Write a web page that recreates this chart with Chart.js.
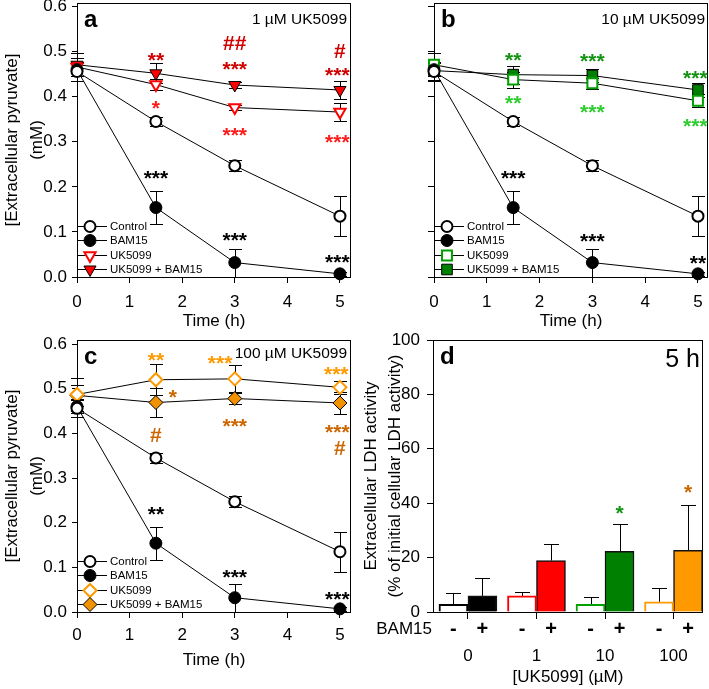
<!DOCTYPE html>
<html>
<head>
<meta charset="utf-8">
<title>Extracellular pyruvate and LDH</title>
<script src="https://cdn.jsdelivr.net/npm/chart.js@4.4.1/dist/chart.umd.min.js"></script>
<style>
  html, body { margin: 0; padding: 0; background: #fff; }
  #page { position: relative; width: 709px; height: 689px; overflow: hidden; }
  canvas { position: absolute; }
</style>
</head>
<body>
<div id="page">
  <canvas id="panelA" width="355" height="340" style="left:0;top:0"></canvas>
  <canvas id="panelB" width="354" height="340" style="left:355px;top:0"></canvas>
  <canvas id="panelC" width="355" height="359" style="left:0;top:330px"></canvas>
  <canvas id="panelD" width="354" height="359" style="left:355px;top:330px"></canvas>
</div>
<script>
/* data */
var hours = [0, 1.5, 3, 5];
var hourTicks = [0, 1, 2, 3, 4, 5];
var pyruvateTicks = [0, 0.1, 0.2, 0.3, 0.4, 0.5, 0.6];
var seriesNames = ['Control', 'BAM15', 'UK5099', 'UK5099 + BAM15'];

var controlPyr = [0.456, 0.345, 0.247, 0.135];
var controlPyrErr = [0.02, 0.011, 0.012, 0.045];
var bam15Pyr = [0.46, 0.154, 0.032, 0.007];
var bam15PyrErr = [0.015, 0.037, 0.031, 0.004];

var uk1Pyr = [0.466, 0.427, 0.376, 0.366];
var uk1PyrErr = [0.02, 0.012, 0.005, 0.019];
var uk1BamPyr = [0.471, 0.452, 0.426, 0.415];
var uk1BamPyrErr = [0.025, 0.022, 0.006, 0.021];

var uk10Pyr = [0.471, 0.438, 0.43, 0.391];
var uk10PyrErr = [0.025, 0.018, 0.012, 0.014];
var uk10BamPyr = [0.458, 0.449, 0.447, 0.415];
var uk10BamPyrErr = [0.02, 0.02, 0.015, 0.015];

var uk100Pyr = [0.487, 0.52, 0.522, 0.503];
var uk100PyrErr = [0.037, 0.035, 0.03, 0.014];
var uk100BamPyr = [0.485, 0.469, 0.478, 0.468];
var uk100BamPyrErr = [0.023, 0.033, 0.012, 0.024];

// significance marks: [time (h), level (mM), symbols, compared group]
var marksA = [
  [1.5, 0.493, '**', 'combo'], [1.5, 0.387, '*', 'uk'],
  [3, 0.521, '##', 'combo'], [3, 0.473, '***', 'combo'], [3, 0.326, '***', 'uk'],
  [5, 0.503, '#', 'combo'], [4.95, 0.46, '***', 'combo'], [4.95, 0.311, '***', 'uk'],
  [1.5, 0.231, '***', 'bam'], [3, 0.094, '***', 'bam'], [4.95, 0.044, '***', 'bam']
];
var marksB = [
  [1.5, 0.493, '**', 'combo'], [1.5, 0.397, '**', 'uk'],
  [3, 0.491, '***', 'combo'], [3, 0.377, '***', 'uk'],
  [4.95, 0.454, '***', 'combo'], [4.95, 0.347, '***', 'uk'],
  [1.5, 0.231, '***', 'bam'], [3, 0.092, '***', 'bam'], [5, 0.043, '**', 'bam']
];
var marksC = [
  [1.5, 0.576, '**', 'uk'], [2.72, 0.569, '***', 'uk'], [4.93, 0.544, '***', 'uk'],
  [1.82, 0.492, '*', 'combo'], [1.5, 0.398, '#', 'combo'], [3, 0.428, '***', 'combo'],
  [4.95, 0.415, '***', 'combo'], [5, 0.369, '#', 'combo'],
  [1.5, 0.23, '**', 'bam'], [3, 0.09, '***', 'bam'], [4.95, 0.04, '***', 'bam']
];

var ukDoses = ['0', '1', '10', '100'];
var bamSigns = ['-', '+'];
var ldhTicks = [0, 20, 40, 60, 80, 100];
var ldhNoBam = [2.8, 5.9, 2.8, 3.7];
var ldhNoBamErr = [4.3, 1.4, 2.8, 5.2];
var ldhBam = [5.9, 18.9, 22.3, 22.7];
var ldhBamErr = [6.7, 6.1, 10.1, 16.7];
// [dose index, level (%), symbols] above the BAM15 bar
var marksD = [[2, 38.2, '*'], [3, 46.2, '*']];

var FONT = "'Liberation Sans', Arial, Helvetica, sans-serif";
Chart.defaults.font.family = FONT;
Chart.defaults.color = '#000';

function drawMark(ctx, text, x, y, color) {
  ctx.fillStyle = color;
  ctx.font = 'bold 21px ' + FONT;
  ctx.textAlign = 'center';
  ctx.textBaseline = 'alphabetic';
  var k = text.charAt(0) === '#' ? 0.36 : 0.58;
  ctx.fillText(text, x, y + k * 21);
}

// keep the plot frame where the figure has it, labels may stick out
function noEdgePadding(s) {
  s.paddingTop = 0; s.paddingBottom = 0;
  s.paddingLeft = 0; s.paddingRight = 0;
}

/* error bars go under the markers */
var errorBars = {
  id: 'errorBars',
  beforeDatasetsDraw: function(chart) {
    var ctx = chart.ctx;
    var yScale = chart.scales.y;
    var isBar = chart.config.type === 'bar';
    ctx.save();
    ctx.strokeStyle = '#000';
    ctx.lineWidth = 1;
    chart.data.datasets.forEach(function(ds, i) {
      if (!ds.errors) return;
      var meta = chart.getDatasetMeta(i);
      meta.data.forEach(function(el, j) {
        var v = ds.data[j].y;
        var e = ds.errors[j];
        var x = Math.round(el.x) + 0.5;
        var top = Math.round(yScale.getPixelForValue(v + e)) + 0.5;
        var bot = isBar ? el.y : Math.round(yScale.getPixelForValue(v - e)) + 0.5;
        var cap = isBar ? 7.5 : 6.5;
        ctx.beginPath();
        ctx.moveTo(x, top); ctx.lineTo(x, bot);
        ctx.moveTo(x - cap, top); ctx.lineTo(x + cap, top);
        if (!isBar) { ctx.moveTo(x - cap, bot); ctx.lineTo(x + cap, bot); }
        ctx.stroke();
      });
    });
    ctx.restore();
  }
};

/* frame, panel letter, heading, significance marks, legend */
var panelExtras = {
  id: 'panelExtras',
  beforeDatasetsDraw: function(chart) {
    var a = chart.chartArea, ctx = chart.ctx;
    ctx.save();
    ctx.strokeStyle = '#000';
    ctx.lineWidth = 1;
    ctx.strokeRect(a.left + 0.5, a.top + 0.5, a.right - a.left - 1, a.bottom - a.top);
    ctx.restore();
  },
  afterDatasetsDraw: function(chart, args, o) {
    var a = chart.chartArea, ctx = chart.ctx;
    var xs = chart.scales.x, ys = chart.scales.y;
    ctx.save();

    ctx.fillStyle = '#000';
    ctx.font = 'bold 24px ' + FONT;
    ctx.textAlign = 'left';
    ctx.textBaseline = 'alphabetic';
    ctx.fillText(o.letter, a.left + 7, a.top + 24);

    ctx.font = o.headingFont + ' ' + FONT;
    ctx.textAlign = 'right';
    ctx.fillText(o.heading, a.right - o.headingRight, a.top + o.headingTop);

    (o.marks || []).forEach(function(m) {
      var x, color;
      if (o.barMarks) {
        x = chart.getDatasetMeta(1).data[m[0]].x;
        color = o.colors[m[0]];
      } else {
        x = xs.getPixelForValue(m[0]);
        color = o.colors[m[3]];
      }
      drawMark(ctx, m[2], x, ys.getPixelForValue(m[1]), color);
    });

    if (o.legend) {
      chart.data.datasets.forEach(function(ds, i) {
        var y = Math.round(a.bottom - 51.5 + i * 14.6) + 0.5;
        ctx.strokeStyle = '#000';
        ctx.lineWidth = 1;
        ctx.beginPath();
        ctx.moveTo(a.left, y); ctx.lineTo(a.left + 30, y);
        ctx.stroke();
        ctx.fillStyle = ds.pointBackgroundColor;
        ctx.strokeStyle = ds.pointBorderColor;
        ctx.lineWidth = ds.pointBorderWidth;
        Chart.helpers.drawPoint(ctx, {
          pointStyle: ds.pointStyle, rotation: ds.pointRotation || 0,
          radius: ds.pointRadius, borderWidth: ds.pointBorderWidth
        }, a.left + 13, y);
        ctx.fillStyle = '#000';
        ctx.font = '11.5px ' + FONT;
        ctx.textAlign = 'left';
        ctx.textBaseline = 'middle';
        ctx.fillText(ds.label, a.left + 33, y);
      });
    }

    if (o.bamRow) {
      var rowY = a.bottom + 17;
      ctx.fillStyle = '#000';
      ctx.textBaseline = 'middle';
      ctx.textAlign = 'right';
      ctx.font = '17px ' + FONT;
      ctx.fillText('BAM15', a.left - 1, rowY);
      ctx.textAlign = 'center';
      ctx.font = 'bold 20px ' + FONT;
      chart.data.datasets.forEach(function(ds, i) {
        chart.getDatasetMeta(i).data.forEach(function(el) {
          ctx.fillText(bamSigns[i], el.x, rowY);
        });
      });
    }
    ctx.restore();
  }
};

function points(ys) {
  return hours.map(function(h, i) { return {x: h, y: ys[i]}; });
}

function lineSet(label, ys, errs, look) {
  var ds = {
    label: label, data: points(ys), errors: errs,
    borderColor: '#000', borderWidth: 1, tension: 0, clip: false,
    pointHoverRadius: look.pointRadius, pointHitRadius: 0
  };
  Object.keys(look).forEach(function(k) { ds[k] = look[k]; });
  return ds;
}

function pyruvateChart(p) {
  var datasets = [
    lineSet(seriesNames[0], controlPyr, controlPyrErr,
      {pointStyle: 'circle', pointRadius: 5.5, pointBackgroundColor: '#fff', pointBorderColor: '#000', pointBorderWidth: 2}),
    lineSet(seriesNames[1], bam15Pyr, bam15PyrErr,
      {pointStyle: 'circle', pointRadius: 6, pointBackgroundColor: '#000', pointBorderColor: '#000', pointBorderWidth: 1}),
    lineSet(seriesNames[2], p.uk, p.ukErr, p.ukLook),
    lineSet(seriesNames[3], p.combo, p.comboErr, p.comboLook)
  ];
  return new Chart(document.getElementById(p.canvas), {
    type: 'line',
    data: {datasets: datasets},
    plugins: [errorBars, panelExtras],
    options: {
      responsive: false, animation: false, devicePixelRatio: 1, events: [],
      layout: {autoPadding: false, padding: p.padding},
      plugins: {
        legend: {display: false}, tooltip: {enabled: false},
        panelExtras: {
          letter: p.letter, heading: p.heading, headingFont: '15.5px',
          headingRight: p.headingRight, headingTop: p.headingTop,
          marks: p.marks, colors: p.colors, legend: true
        }
      },
      scales: {
        x: {
          type: 'linear', min: 0, max: p.xMax,
          afterBuildTicks: function(s) { s.ticks = hourTicks.map(function(v) { return {value: v}; }); },
          afterFit: function(s) { s.height = p.xHeight; noEdgePadding(s); },
          border: {display: false},
          grid: {drawOnChartArea: false, drawTicks: true, tickLength: 6, color: '#000'},
          ticks: {padding: p.xTickPad, autoSkip: false, maxRotation: 0, font: {size: 17},
            callback: function(v) { return String(v); }},
          title: {display: true, text: 'Time (h)', font: {size: 17}, padding: {top: 0, bottom: p.xTitlePad}}
        },
        y: {
          type: 'linear', min: 0, max: p.yMax,
          afterBuildTicks: function(s) { s.ticks = pyruvateTicks.map(function(v) { return {value: v}; }); },
          afterFit: function(s) { s.width = p.yWidth; noEdgePadding(s); },
          border: {display: false},
          grid: {drawOnChartArea: false, drawTicks: true, tickLength: p.yTickLength, color: '#000'},
          ticks: {padding: 5, autoSkip: false, font: {size: 17},
            callback: function(v) { return p.yLabels ? v.toFixed(1) : ''; }},
          title: {display: p.yLabels, text: ['[Extracellular pyruvate]', '(mM)'],
            font: {size: 17, lineHeight: 1.44}, padding: {top: 0.5, bottom: 0}}
        }
      }
    }
  });
}

pyruvateChart({
  canvas: 'panelA', letter: 'a', heading: '1 \u00b5M UK5099', headingRight: 4, headingTop: 21,
  padding: {top: 3, right: 4, left: 0, bottom: 0}, yWidth: 77, xHeight: 63,
  xMax: 5.21, yMax: 0.608, xTickPad: 9, xTitlePad: 8, yTickLength: 5, yLabels: true,
  uk: uk1Pyr, ukErr: uk1PyrErr, combo: uk1BamPyr, comboErr: uk1BamPyrErr,
  ukLook: {pointStyle: 'triangle', pointRotation: 180, pointRadius: 6.5, pointBackgroundColor: '#fff', pointBorderColor: '#ff0000', pointBorderWidth: 2},
  comboLook: {pointStyle: 'triangle', pointRotation: 180, pointRadius: 7, pointBackgroundColor: '#ff0000', pointBorderColor: '#000', pointBorderWidth: 1},
  marks: marksA, colors: {bam: '#000', uk: '#ff1a1a', combo: '#d00000'}
});

pyruvateChart({
  canvas: 'panelB', letter: 'b', heading: '10 \u00b5M UK5099', headingRight: 3, headingTop: 21,
  padding: {top: 3, right: 1, left: 0, bottom: 0}, yWidth: 79, xHeight: 63,
  xMax: 5.19, yMax: 0.608, xTickPad: 9, xTitlePad: 8, yTickLength: 6, yLabels: false,
  uk: uk10Pyr, ukErr: uk10PyrErr, combo: uk10BamPyr, comboErr: uk10BamPyrErr,
  ukLook: {pointStyle: 'rect', pointRadius: 7, pointBackgroundColor: '#fff', pointBorderColor: '#00a000', pointBorderWidth: 2},
  comboLook: {pointStyle: 'rect', pointRadius: 7.5, pointBackgroundColor: '#008000', pointBorderColor: '#000', pointBorderWidth: 1},
  marks: marksB, colors: {bam: '#000', uk: '#2ecc2e', combo: '#129412'}
});

pyruvateChart({
  canvas: 'panelC', letter: 'c', heading: '100 \u00b5M UK5099', headingRight: 4, headingTop: 18,
  padding: {top: 10, right: 4, left: 0, bottom: 0}, yWidth: 77, xHeight: 77,
  xMax: 5.21, yMax: 0.609, xTickPad: 7.5, xTitlePad: 18, yTickLength: 5, yLabels: true,
  uk: uk100Pyr, ukErr: uk100PyrErr, combo: uk100BamPyr, comboErr: uk100BamPyrErr,
  ukLook: {pointStyle: 'rectRot', pointRadius: 6.5, pointBackgroundColor: '#fff', pointBorderColor: '#ff9900', pointBorderWidth: 2},
  comboLook: {pointStyle: 'rectRot', pointRadius: 7, pointBackgroundColor: '#f39200', pointBorderColor: '#000', pointBorderWidth: 1},
  marks: marksC, colors: {bam: '#000', uk: '#ff9900', combo: '#cc6600'}
});

/* panel d: LDH release at 5 h */
var doseFill = ['#000000', '#ff0000', '#008000', '#ff9900'];
var doseEdge = ['#000000', '#ff0000', '#00a000', '#ff9900'];
var doseMarkColor = ['#000000', '#d00000', '#129412', '#cc6600'];

function bars(ys) {
  return ukDoses.map(function(d, i) { return {x: i, y: ys[i]}; });
}

new Chart(document.getElementById('panelD'), {
  type: 'bar',
  data: {
    datasets: [
      {label: 'BAM15 -', data: bars(ldhNoBam), errors: ldhNoBamErr,
        backgroundColor: '#fff', borderColor: doseEdge, borderWidth: 2,
        barThickness: 29, borderSkipped: 'start'},
      {label: 'BAM15 +', data: bars(ldhBam), errors: ldhBamErr,
        backgroundColor: doseFill, borderColor: '#111', borderWidth: 1.5,
        barThickness: 29, borderSkipped: 'start'}
    ]
  },
  plugins: [errorBars, panelExtras],
  options: {
    responsive: false, animation: false, devicePixelRatio: 1, events: [],
    layout: {autoPadding: false, padding: {top: 10, right: 6, left: 0, bottom: 0}},
    plugins: {
      legend: {display: false}, tooltip: {enabled: false},
      panelExtras: {
        letter: 'd', heading: '5 h', headingFont: '25px',
        headingRight: 3, headingTop: 27,
        marks: marksD, barMarks: true, colors: doseMarkColor, bamRow: true
      }
    },
    scales: {
      x: {
        type: 'linear', min: -0.51, max: 3.43, offset: false,
        afterBuildTicks: function(s) { s.ticks = ukDoses.map(function(d, i) { return {value: i}; }); },
        afterFit: function(s) { s.height = 77; noEdgePadding(s); },
        border: {display: false},
        grid: {offset: false, drawOnChartArea: false, drawTicks: true, tickLength: 7, color: '#000'},
        ticks: {padding: 27.5, autoSkip: false, maxRotation: 0, font: {size: 17},
          callback: function(v) { return ukDoses[v]; }},
        title: {display: true, text: '[UK5099] (\u00b5M)', font: {size: 17}, padding: {top: 0, bottom: 1}}
      },
      y: {
        type: 'linear', min: 0, max: 100,
        afterBuildTicks: function(s) { s.ticks = ldhTicks.map(function(v) { return {value: v}; }); },
        afterFit: function(s) { s.width = 78; noEdgePadding(s); },
        border: {display: false},
        grid: {drawOnChartArea: false, drawTicks: true, tickLength: 6, color: '#000'},
        ticks: {padding: 7, autoSkip: false, font: {size: 17}},
        title: {display: true, text: ['Extracellular LDH activity', '(% of initial cellular LDH activity)'],
          font: {size: 17, lineHeight: 1.37}, padding: {top: 5, bottom: 0}}
      }
    }
  }
});
</script>
</body>
</html>
